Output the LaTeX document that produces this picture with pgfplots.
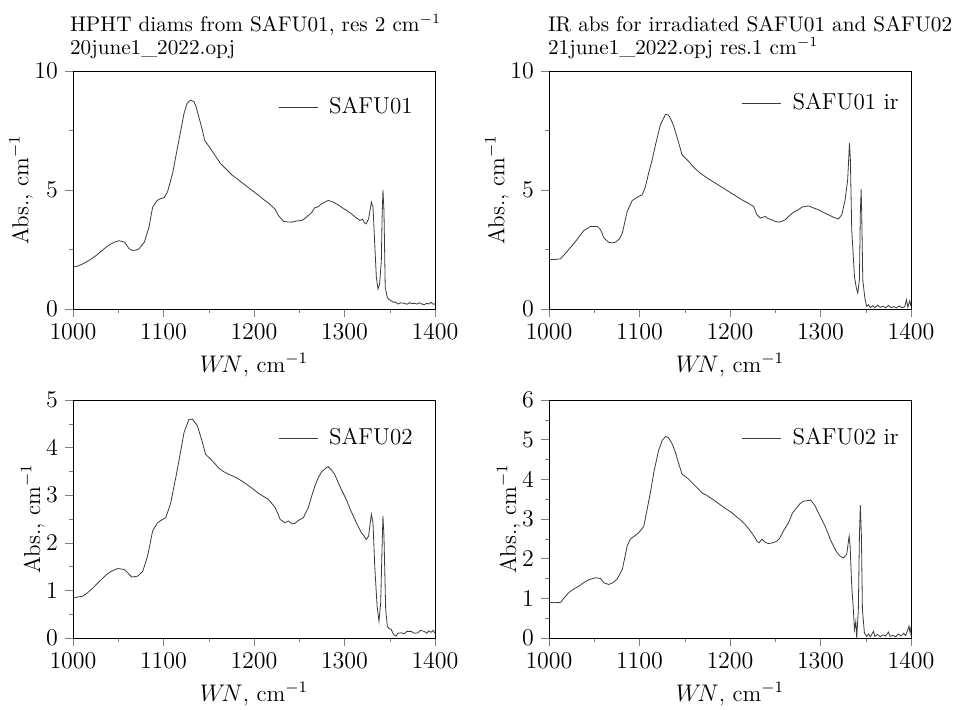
\documentclass[border=0pt]{standalone}
\usepackage{pgfplots}
\pgfplotsset{compat=1.18}
\definecolor{trace}{RGB}{58,58,58}
\pgfplotsset{
  panel/.style={
    scale only axis, width=181pt, height=119pt,
    anchor=south west,
    xmin=1000, xmax=1400, xtick={1000,1100,...,1400},
    /pgf/number format/1000 sep={},
    minor x tick num=1, minor y tick num=1,
    tick align=outside, xtick pos=bottom, ytick pos=left,
    major tick length=4pt, minor tick length=2pt,
    tick label style={font=\fontsize{11.5}{13}\selectfont},
    label style={font=\fontsize{11.5}{13}\selectfont},
    xlabel={$W\!N$, cm$^{-1}$}, ylabel={Abs., cm$^{-1}$},
    ylabel style={yshift=-6pt},
    legend style={draw=none, fill=none, at={(1,1)}, anchor=north east,
      font=\fontsize{11.5}{13}\selectfont},
    legend image code/.code={\draw[#1] (0pt,0pt) -- (19.5pt,0pt); \path (23pt,0pt);},
    title style={at={(0,1)}, anchor=south west, align=left,
      font=\fontsize{10.6}{11.5}\selectfont, yshift=-3.5pt},
    cycle list={{trace, mark=none, line width=0.6pt}},
  }
}
\begin{document}
\begin{tikzpicture}
\useasboundingbox (0,0) rectangle (478.5pt,-354.5pt);

% top left
\begin{axis}[panel, at={(36.5pt,-154.5pt)}, ymin=0, ymax=10, ytick={0,5,10},
  title style={xshift=-5pt},
  title={HPHT diams from SAFU01, res 2 cm$^{-1}$\\20june1\_2022.opj},
  legend style={xshift=-6pt, yshift=-9pt}]
\addplot coordinates {
(1000,1.76) (1005,1.80) (1011,1.90) (1018,2.05) (1025.6,2.25) (1031,2.42)
(1036.6,2.60) (1041,2.72) (1045.8,2.81) (1051,2.87) (1054,2.84) (1056.8,2.81)
(1059,2.70) (1062,2.53) (1066,2.46) (1070,2.48) (1073,2.53) (1078.8,2.81)
(1084,3.44) (1088,4.28) (1093,4.56) (1097,4.64) (1100.7,4.68) (1104.4,4.92)
(1110,5.69) (1117,7.09) (1122.7,8.22) (1126,8.64) (1130,8.78) (1133.7,8.71)
(1136,8.50) (1139,8.08) (1143,7.51) (1145.4,7.09) (1152,6.74) (1157,6.45)
(1163,6.11) (1170,5.85) (1176,5.62) (1183,5.42) (1190.5,5.20) (1198,4.98)
(1205,4.78) (1210,4.62) (1216,4.45) (1223,4.21) (1227,3.93) (1232.6,3.68)
(1237,3.66) (1241.8,3.65) (1247,3.70) (1252.7,3.72) (1256,3.80) (1260,3.93)
(1263.7,4.05) (1267,4.25) (1271,4.30) (1274,4.40) (1278,4.49) (1282,4.56)
(1285.7,4.52) (1291,4.42) (1296.7,4.28) (1302,4.15) (1307.7,4.00) (1312,3.86)
(1317,3.72) (1320,3.78) (1322,3.62) (1324,3.58) (1326.6,3.79) (1328,4.10)
(1329.7,4.49) (1331.5,4.28) (1333.4,2.74) (1335.2,1.33) (1337,0.84) (1338.8,1.05)
(1340.7,2.04) (1341.5,3.80) (1342.5,4.99) (1343.6,4.14) (1345,0.91) (1347.3,0.49)
(1349,0.40) (1351.6,0.35) (1354,0.28) (1356,0.30) (1359,0.21) (1362,0.26)
(1366,0.24) (1369,0.20) (1372,0.27) (1374,0.22) (1377,0.24) (1380,0.21)
(1383,0.26) (1386,0.20) (1388,0.18) (1391,0.24) (1393,0.21) (1395.6,0.28)
(1398,0.20) (1400,0.22)
};
\addlegendentry{SAFU01}
\end{axis}

% top right
\begin{axis}[panel, at={(274.5pt,-154.5pt)}, ymin=0, ymax=10, ytick={0,5,10},
  title style={xshift=-4pt},
  title={IR abs for irradiated SAFU01 and SAFU02\\21june1\_2022.opj res.1 cm$^{-1}$},
  legend style={xshift=-1pt, yshift=-7pt}]
\addplot coordinates {
(1000,2.07) (1006,2.08) (1012.9,2.11) (1020,2.42) (1029.4,2.84) (1034,3.08)
(1038.6,3.30) (1046,3.47) (1053.3,3.47) (1057,3.33) (1060.7,2.98) (1066,2.80)
(1070,2.78) (1073.5,2.81) (1078,2.95) (1081,3.19) (1086.4,4.10) (1092,4.56)
(1099,4.73) (1103,4.80) (1106.6,5.15) (1110,5.70) (1114,6.27) (1118,6.95)
(1123,7.73) (1128.7,8.18) (1132,8.15) (1135,7.95) (1138,7.66) (1143.4,6.97)
(1147,6.48) (1154.4,6.20) (1160,5.95) (1167,5.71) (1175,5.50) (1183.8,5.29)
(1191,5.12) (1198.5,4.94) (1206,4.76) (1213,4.59) (1220,4.45) (1226,4.31)
(1229.8,3.96) (1233.5,3.82) (1236,3.85) (1239,3.89) (1242,3.80) (1246,3.75)
(1250,3.68) (1253.7,3.65) (1257,3.68) (1261,3.75) (1264.7,3.89) (1270,4.06)
(1275.7,4.17) (1279.4,4.28) (1283,4.31) (1286.8,4.33) (1292,4.25) (1297.8,4.17)
(1303,4.06) (1308.8,3.96) (1314,3.86) (1319.8,3.78) (1323.5,3.96) (1327.2,4.59)
(1330,5.43) (1332,6.97) (1333,6.27) (1334.5,3.33) (1337.5,1.37) (1339.5,0.90)
(1341.2,0.67) (1343,1.23) (1344,4.03) (1344.9,5.03) (1345.6,3.89) (1346.7,1.23)
(1349,0.46) (1351,0.11) (1353,0.18) (1355,0.06) (1358,0.14) (1360,0.05)
(1363,0.16) (1366,0.07) (1369,0.12) (1372,0.05) (1375,0.15) (1378,0.06)
(1381,0.10) (1384,0.05) (1387,0.13) (1390,0.06) (1393,0.09) (1395,0.39)
(1396.5,0.08) (1398.6,0.35) (1400,0.10)
};
\addlegendentry{SAFU01 ir}
\end{axis}

% bottom left
\begin{axis}[panel, at={(36.5pt,-319pt)}, ymin=0, ymax=5, ytick={0,1,...,5},
  legend style={xshift=-6pt, yshift=-10pt}]
\addplot coordinates {
(1000,0.84) (1005,0.86) (1011,0.88) (1016,0.95) (1022,1.05) (1027,1.15)
(1033,1.26) (1037,1.33) (1042,1.40) (1049.5,1.46) (1056.8,1.44) (1060.4,1.37)
(1065,1.28) (1071.4,1.30) (1077,1.40) (1082.4,1.72) (1088,2.25) (1093.4,2.42)
(1098,2.48) (1102.6,2.53) (1108,2.84) (1115.4,3.55) (1122.7,4.32) (1128,4.59)
(1132,4.60) (1137.4,4.46) (1143,4.11) (1146.5,3.86) (1152,3.76) (1156,3.68)
(1161,3.57) (1166,3.50) (1172,3.44) (1177,3.40) (1183,3.34) (1188,3.28)
(1194,3.20) (1199,3.13) (1205,3.04) (1210,2.98) (1216,2.91) (1223.4,2.74)
(1229,2.49) (1234.4,2.42) (1238,2.46) (1242,2.40) (1245.4,2.41) (1249,2.47)
(1254.6,2.53) (1260,2.74) (1263.7,2.98) (1267.4,3.20) (1271,3.37) (1274.7,3.49)
(1280,3.58) (1282,3.60) (1285.7,3.53) (1289,3.44) (1293,3.27) (1297,3.10)
(1302,2.91) (1306,2.72) (1311.4,2.49) (1315,2.35) (1318.7,2.21) (1321,2.16)
(1324,2.07) (1326.6,2.14) (1328,2.35) (1329.7,2.60) (1331.5,2.42) (1333.4,1.51)
(1336,0.67) (1338.1,0.35) (1340,0.74) (1341.5,1.90) (1342.5,2.56) (1343.6,2.14)
(1345.5,0.60) (1347.3,0.25) (1349,0.20) (1351.6,0.18) (1354,0.08) (1357,0.04)
(1359,0.10) (1362.6,0.11) (1366,0.09) (1369,0.14) (1373.6,0.14) (1377,0.10)
(1381,0.11) (1384,0.16) (1388,0.14) (1391,0.10) (1393,0.15) (1395.6,0.12)
(1398,0.16) (1400,0.10)
};
\addlegendentry{SAFU02}
\end{axis}

% bottom right
\begin{axis}[panel, at={(274.5pt,-319pt)}, ymin=0, ymax=6, ytick={0,1,...,6},
  legend style={xshift=-1pt, yshift=-10pt}]
\addplot coordinates {
(1000,0.90) (1006,0.89) (1012.9,0.90) (1017,1.02) (1022,1.15) (1027,1.23)
(1033,1.31) (1038,1.39) (1044,1.47) (1051.5,1.52) (1057,1.50) (1060.7,1.39)
(1066,1.35) (1071,1.40) (1075.4,1.49) (1081,1.73) (1086.4,2.32) (1090,2.50)
(1095,2.58) (1099,2.65) (1104.8,2.82) (1108,3.20) (1112,3.66) (1116,4.20)
(1121,4.72) (1125,4.98) (1128.7,5.08) (1132,5.05) (1136,4.90) (1139.7,4.68)
(1143,4.42) (1147,4.13) (1152.6,4.04) (1157,3.94) (1161.8,3.83) (1165,3.76)
(1169,3.66) (1174,3.60) (1180,3.51) (1185,3.43) (1191,3.33) (1196,3.25)
(1202,3.16) (1207,3.06) (1213,2.95) (1218,2.83) (1224,2.65) (1227,2.55)
(1229.8,2.44) (1232,2.40) (1235.3,2.49) (1239,2.41) (1242.6,2.38) (1247,2.40)
(1251.8,2.44) (1255,2.52) (1259,2.70) (1264.7,2.91) (1269,3.15) (1273.9,3.29)
(1277,3.38) (1281.2,3.45) (1285,3.46) (1288.6,3.48) (1291,3.43) (1294,3.33)
(1297.8,3.15) (1301.4,2.99) (1305,2.82) (1308.8,2.61) (1311,2.48) (1314.3,2.32)
(1317,2.20) (1319.8,2.11) (1322,2.06) (1325.3,2.02) (1329,2.11) (1331.6,2.57)
(1332.7,2.32) (1334.5,1.31) (1336.3,0.72) (1337.5,0.21) (1339,0.42) (1340,0.00)
(1341.8,0.72) (1343,2.57) (1344,3.35) (1345.2,2.57) (1346.3,0.72) (1348.5,0.13)
(1351,0.04) (1353,0.10) (1355,0.03) (1358.6,0.17) (1360,0.04) (1363,0.09)
(1366,0.03) (1369,0.08) (1372,0.05) (1375,0.15) (1377,0.04) (1380,0.07)
(1383,0.03) (1386,0.10) (1389,0.05) (1392,0.12) (1394,0.06) (1396,0.18)
(1397.8,0.30) (1399,0.12) (1400,0.28)
};
\addlegendentry{SAFU02 ir}
\end{axis}
\end{tikzpicture}
\end{document}
